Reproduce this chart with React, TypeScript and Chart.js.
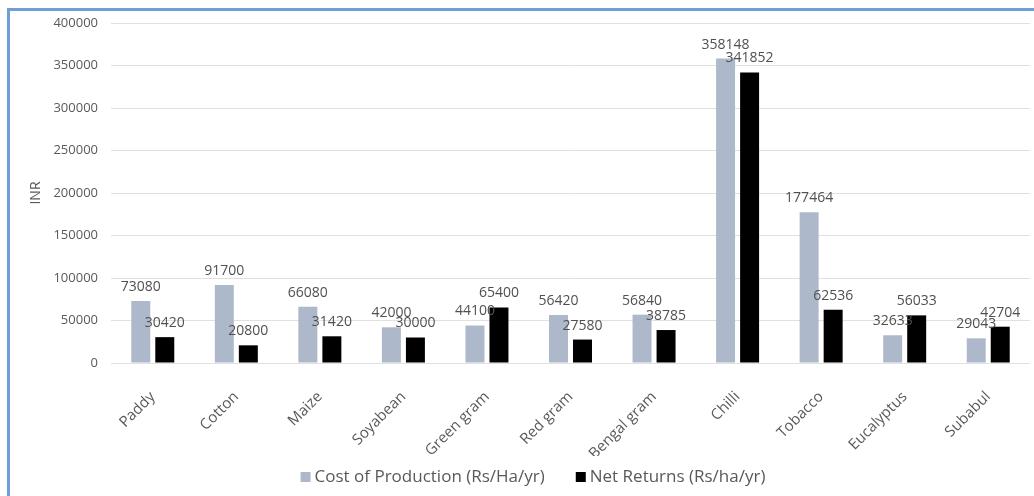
import React, { useEffect, useRef } from "react";
import { Chart, registerables } from "chart.js";

Chart.register(...registerables);

const categories = ["Paddy", "Cotton", "Maize", "Soyabean", "Green gram", "Red gram", "Bengal gram", "Chilli", "Tobacco", "Eucalyptus", "Subabul"];
const costOfProduction = [73080, 91700, 66080, 42000, 44100, 56420, 56840, 358148, 177464, 32633, 29043];
const netReturns = [30420, 20800, 31420, 30000, 65400, 27580, 38785, 341852, 62536, 56033, 42704];
const seriesNames = ["Cost of Production (Rs/Ha/yr)", "Net Returns (Rs/ha/yr)"];
const seriesColors = ["#ADB9CA", "#000000"];
const yTicks = { min: 0, max: 400000, step: 50000 };
const yTitle = "INR";

const FONT = "'Open Sans', 'Liberation Sans', sans-serif";
const TEXT = "#595959";

const dataLabels = {
  id: "dataLabels",
  afterDatasetsDraw(chart: any) {
    const ctx = chart.ctx;
    ctx.save();
    ctx.font = `14px ${FONT}`;
    ctx.fillStyle = "#505050";
    ctx.textAlign = "center";
    ctx.textBaseline = "middle";
    chart.data.datasets.forEach((ds: any, i: number) => {
      const meta = chart.getDatasetMeta(i);
      meta.data.forEach((el: any, j: number) => {
        ctx.fillText(String(ds.data[j]), el.x, el.y - 14);
      });
    });
    ctx.restore();
  },
};

const customLegend = {
  id: "customLegend",
  afterDraw(chart: any) {
    const ctx = chart.ctx;
    ctx.save();
    ctx.font = `17px ${FONT}`;
    ctx.textBaseline = "middle";
    ctx.textAlign = "left";
    const box = 10, boxGap = 4, itemGap = 31;
    const items = chart.data.datasets.map((ds: any) => ({
      text: ds.label,
      color: ds.backgroundColor,
      w: box + boxGap + ctx.measureText(ds.label).width,
    }));
    const total = items.reduce((a: number, it: any) => a + it.w, 0) + itemGap * (items.length - 1);
    let x = 533 - total / 2;
    const y = 477;
    items.forEach((it: any) => {
      ctx.fillStyle = it.color;
      ctx.fillRect(x, y - box / 2, box, box);
      ctx.fillStyle = TEXT;
      ctx.fillText(it.text, x + box + boxGap, y);
      x += it.w + itemGap;
    });
    ctx.restore();
  },
};

export default function App() {
  const ref = useRef<HTMLCanvasElement>(null);
  useEffect(() => {
    if (!ref.current) return;
    const chart = new Chart(ref.current, {
      type: "bar",
      data: {
        labels: categories,
        datasets: [
          { label: seriesNames[0], data: costOfProduction, backgroundColor: seriesColors[0], categoryPercentage: 0.575, barPercentage: 0.79 },
          { label: seriesNames[1], data: netReturns, backgroundColor: seriesColors[1], categoryPercentage: 0.575, barPercentage: 0.79 },
        ],
      },
      options: {
        animation: false,
        responsive: false,
        layout: { padding: { left: 10, right: 4, top: 23, bottom: 40 } },
        plugins: {
          legend: { display: false },
          tooltip: { enabled: false },
        },
        scales: {
          x: {
            grid: { display: false },
            border: { display: false },
            ticks: { font: { family: FONT, size: 15 }, color: TEXT, minRotation: 45, maxRotation: 45, padding: 17 },
            afterFit: (s: any) => { s.height = 93; },
          },
          y: {
            min: yTicks.min,
            max: yTicks.max,
            grid: { color: "#e0e0e0", drawTicks: false },
            border: { display: false },
            ticks: {
              stepSize: yTicks.step,
              font: { family: FONT, size: 13 },
              color: TEXT,
              padding: 13,
              callback: (v: any) => String(v),
            },
            title: { display: true, text: yTitle, font: { family: FONT, size: 14 }, color: TEXT, padding: { top: 18, bottom: 0 } },
            afterFit: (s: any) => { s.width = 101; },
          },
        },
      },
      plugins: [dataLabels, customLegend],
    });
    return () => chart.destroy();
  }, []);
  return (
    <div style={{ position: "fixed", left: 0, top: 0, width: 1034, height: 496, background: "#fff", overflow: "hidden" }}>
      <canvas ref={ref} width={1034} height={496} style={{ position: "absolute", left: 0, top: 0 }} />
      <div style={{ position: "absolute", left: 7, top: 8, width: 1040, height: 500, borderTop: "3px solid #6f9fd8", borderLeft: "3px solid #6f9fd8", pointerEvents: "none" }} />
    </div>
  );
}
